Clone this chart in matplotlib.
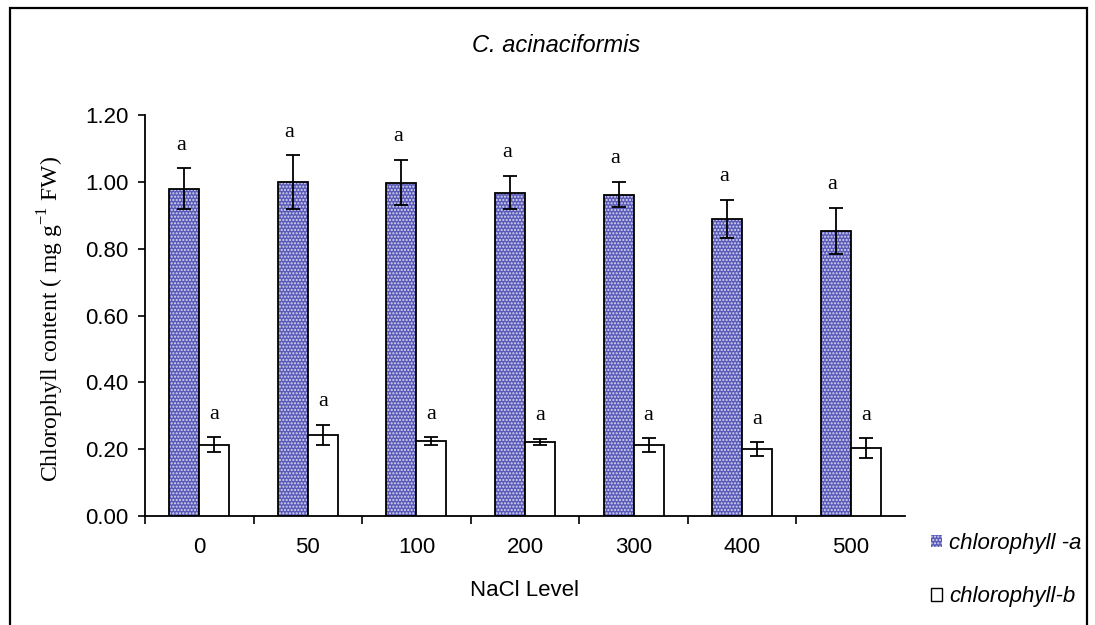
import numpy as np
import matplotlib
matplotlib.use('Agg')
import matplotlib.pyplot as plt
from matplotlib.patches import Rectangle, Patch

nacl_levels = ['0', '50', '100', '200', '300', '400', '500']
chl_a = [0.98, 1.00, 0.998, 0.968, 0.962, 0.889, 0.853]
chl_a_err = [0.06, 0.08, 0.068, 0.05, 0.038, 0.058, 0.07]
chl_b = [0.213, 0.243, 0.224, 0.222, 0.212, 0.200, 0.203]
chl_b_err = [0.022, 0.030, 0.012, 0.009, 0.020, 0.020, 0.030]
letters_a = ['a'] * 7
letters_b = ['a'] * 7

plt.rcParams['hatch.linewidth'] = 1.0

fig = plt.figure(figsize=(10.95, 6.25), dpi=100)
ax = fig.add_axes([145 / 1095, 109 / 625, 760 / 1095, 401 / 625])

x = np.arange(len(nacl_levels))
w = 0.276
blue = '#5a5ab8'

# dotted blue bars: fill with light hatch, then outline
ax.bar(x - w / 2, chl_a, w, color=blue, hatch='.....', edgecolor='#d8d8f0', linewidth=0, zorder=2)
ax.bar(x - w / 2, chl_a, w, fill=False, edgecolor='black', linewidth=1.3, zorder=3)
ax.bar(x + w / 2, chl_b, w, color='white', edgecolor='black', linewidth=1.3, zorder=3)

ax.errorbar(x - w / 2, chl_a, yerr=chl_a_err, fmt='none', ecolor='black', elinewidth=1.3,
            capsize=5, capthick=1.3, zorder=4)
ax.errorbar(x + w / 2, chl_b, yerr=chl_b_err, fmt='none', ecolor='black', elinewidth=1.3,
            capsize=5, capthick=1.3, zorder=4)

for i in range(len(x)):
    ax.text(x[i] - w / 2 - 0.03, chl_a[i] + chl_a_err[i] + 0.04, letters_a[i],
            ha='center', va='bottom', family='Liberation Serif', fontsize=16)
    ax.text(x[i] + w / 2, chl_b[i] + chl_b_err[i] + 0.04, letters_b[i],
            ha='center', va='bottom', family='Liberation Serif', fontsize=16)

ax.set_xlim(-0.5, 6.5)
ax.set_ylim(0, 1.2)
ax.set_yticks(np.arange(0, 1.21, 0.2))
ax.set_yticklabels([f'{v:.2f}' for v in np.arange(0, 1.21, 0.2)], family='Liberation Sans', fontsize=16)
ax.set_xticks(x)
ax.set_xticklabels(nacl_levels, family='Liberation Sans', fontsize=16)
ax.set_xticks(np.arange(-0.5, 6.0, 1.0), minor=True)
ax.tick_params(axis='x', which='major', length=0, pad=15)
ax.tick_params(axis='x', which='minor', length=6, width=1.2, direction='out')
ax.tick_params(axis='y', length=5, width=1.2, direction='out', pad=7)

for s in ['top', 'right']:
    ax.spines[s].set_visible(False)
for s in ['left', 'bottom']:
    ax.spines[s].set_linewidth(1.3)

ax.set_ylabel('Chlorophyll content ( mg g$^{\\mathregular{-1}}$ FW)', family='Liberation Serif',
              fontsize=17, va='center')
ax.yaxis.set_label_coords((51 - 145) / 760, (516 - 319) / 401)
ax.set_xlabel('NaCl Level', family='Liberation Sans', fontsize=16, va='center')
ax.xaxis.set_label_coords(0.5, (516 - 591) / 401)

fig.text(556 / 1095, 1 - 45 / 625, 'C. acinaciformis', ha='center', va='center',
         family='Liberation Sans', style='italic', fontsize=17)

handles = [Patch(facecolor=blue, hatch='.....', edgecolor='#d8d8f0', linewidth=0),
           Patch(facecolor='white', edgecolor='black', linewidth=1.0)]
fig.legend(handles, ['chlorophyll -a', 'chlorophyll-b'], loc='center left',
           bbox_to_anchor=(931 / 1095, 1 - 570 / 625), frameon=False,
           prop={'family': 'Liberation Sans', 'style': 'italic', 'size': 16},
           handlelength=0.5, handleheight=0.5, handletextpad=0.3, labelspacing=1.45,
           borderpad=0, borderaxespad=0)

fig.patches.append(Rectangle((10 / 1095, -0.1), 1077 / 1095, 0.1 + 617 / 625,
                             transform=fig.transFigure, fill=False, edgecolor='black',
                             linewidth=1.6))

fig.savefig('out.png', dpi=100)
